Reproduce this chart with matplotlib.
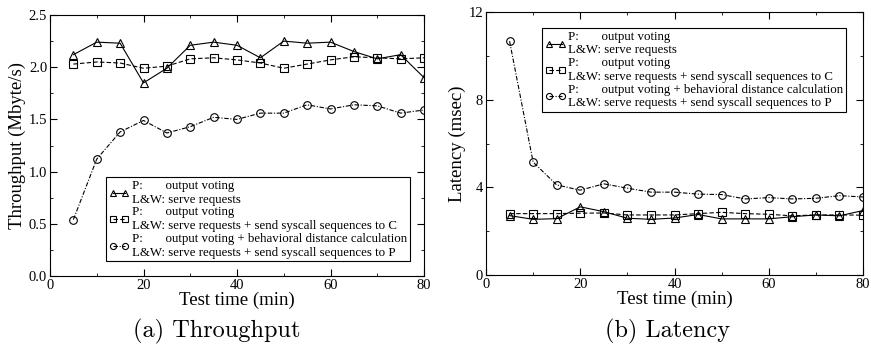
import matplotlib
matplotlib.use("Agg")
import matplotlib.pyplot as plt
from matplotlib.ticker import MultipleLocator

# tiempos de prueba (min)
tiempo = [5, 10, 15, 20, 25, 30, 35, 40, 45, 50, 55, 60, 65, 70, 75, 80]

# Throughput (Mbyte/s)
thr_voto = [2.12, 2.24, 2.23, 1.85, 1.99, 2.21, 2.24, 2.21, 2.09, 2.25, 2.23, 2.24, 2.15, 2.08, 2.12, 1.90]
thr_syscall_c = [2.03, 2.05, 2.04, 1.99, 2.01, 2.08, 2.09, 2.07, 2.04, 1.99, 2.03, 2.07, 2.10, 2.09, 2.08, 2.09]
thr_distancia = [0.54, 1.12, 1.38, 1.49, 1.37, 1.43, 1.52, 1.50, 1.56, 1.56, 1.64, 1.60, 1.64, 1.63, 1.56, 1.59]

# Latencia (msec)
lat_voto = [2.71, 2.54, 2.57, 3.11, 2.89, 2.59, 2.54, 2.60, 2.76, 2.56, 2.56, 2.56, 2.66, 2.74, 2.70, 2.94]
lat_syscall_c = [2.80, 2.80, 2.80, 2.82, 2.83, 2.74, 2.74, 2.74, 2.80, 2.86, 2.80, 2.77, 2.70, 2.74, 2.74, 2.73]
lat_distancia = [10.67, 5.15, 4.11, 3.87, 4.16, 3.96, 3.78, 3.78, 3.69, 3.67, 3.47, 3.53, 3.47, 3.50, 3.62, 3.56]

etiquetas = [
    "P:" + " " * 7 + "output voting\nL&W: serve requests",
    "P:" + " " * 7 + "output voting\nL&W: serve requests + send syscall sequences to C",
    "P:" + " " * 7 + "output voting + behavioral distance calculation\n"
    "L&W: serve requests + send syscall sequences to P",
]

plt.rcParams['font.family'] = ['Liberation Serif', 'DejaVu Serif']

W, H = 871, 344
fig = plt.figure(figsize=(W / 100, H / 100), dpi=100)


def caja(l, r, t, b):
    return [l / W, 1 - b / H, (r - l) / W, (b - t) / H]


ax1 = fig.add_axes(caja(50, 424, 15, 276))
ax2 = fig.add_axes(caja(486, 863, 12, 275))

estilos = [
    dict(marker='^', linestyle='-'),
    dict(marker='s', linestyle=(0, (4, 2))),
    dict(marker='o', linestyle=(0, (4, 1.5, 1, 1.5))),
]


def dibujar(ax, series, ymax, ymaj, ymin, ylabel, loc, anchor):
    for ys, est, lab in zip(series, estilos, etiquetas):
        ax.plot(tiempo, ys, color='black', lw=0.8, markersize=5.5,
                markerfacecolor='none', markeredgewidth=0.8, label=lab, **est)
    ax.set_xlim(0, 80)
    ax.set_ylim(0, ymax)
    ax.xaxis.set_major_locator(MultipleLocator(20))
    ax.xaxis.set_minor_locator(MultipleLocator(10))
    ax.yaxis.set_major_locator(MultipleLocator(ymaj))
    ax.yaxis.set_minor_locator(MultipleLocator(ymin))
    ax.tick_params(which='both', direction='in', top=True, right=True, labelsize=10.5, pad=2)
    ax.tick_params(which='major', length=5)
    ax.tick_params(which='minor', length=2.5)
    ax.set_xlabel('Test time (min)', fontsize=13.5, labelpad=0)
    ax.set_ylabel(ylabel, fontsize=13.5, labelpad=2)
    leg = ax.legend(loc=loc, bbox_to_anchor=anchor, fontsize=9.3, numpoints=2,
                    markerscale=0.8, handlelength=1.6, handletextpad=0.2,
                    borderpad=0.2, labelspacing=0.05, fancybox=False,
                    framealpha=1, edgecolor='black', borderaxespad=0.0)
    leg.get_frame().set_linewidth(0.8)


dibujar(ax1, [thr_voto, thr_syscall_c, thr_distancia], 2.5, 0.5, 0.25,
        'Throughput (Mbyte/s)', 'lower left', (0.15, 0.057))
dibujar(ax2, [lat_voto, lat_syscall_c, lat_distancia], 12, 4, 2,
        'Latency (msec)', 'upper left', (0.149, 0.939))

fig.text(217 / W, 1 - 331 / H, '(a) Throughput', family='cmr10', fontsize=17.5,
         ha='center', va='center')
fig.text(668 / W, 1 - 331 / H, '(b) Latency', family='cmr10', fontsize=17.5,
         ha='center', va='center')

fig.savefig('out.png', dpi=100)
